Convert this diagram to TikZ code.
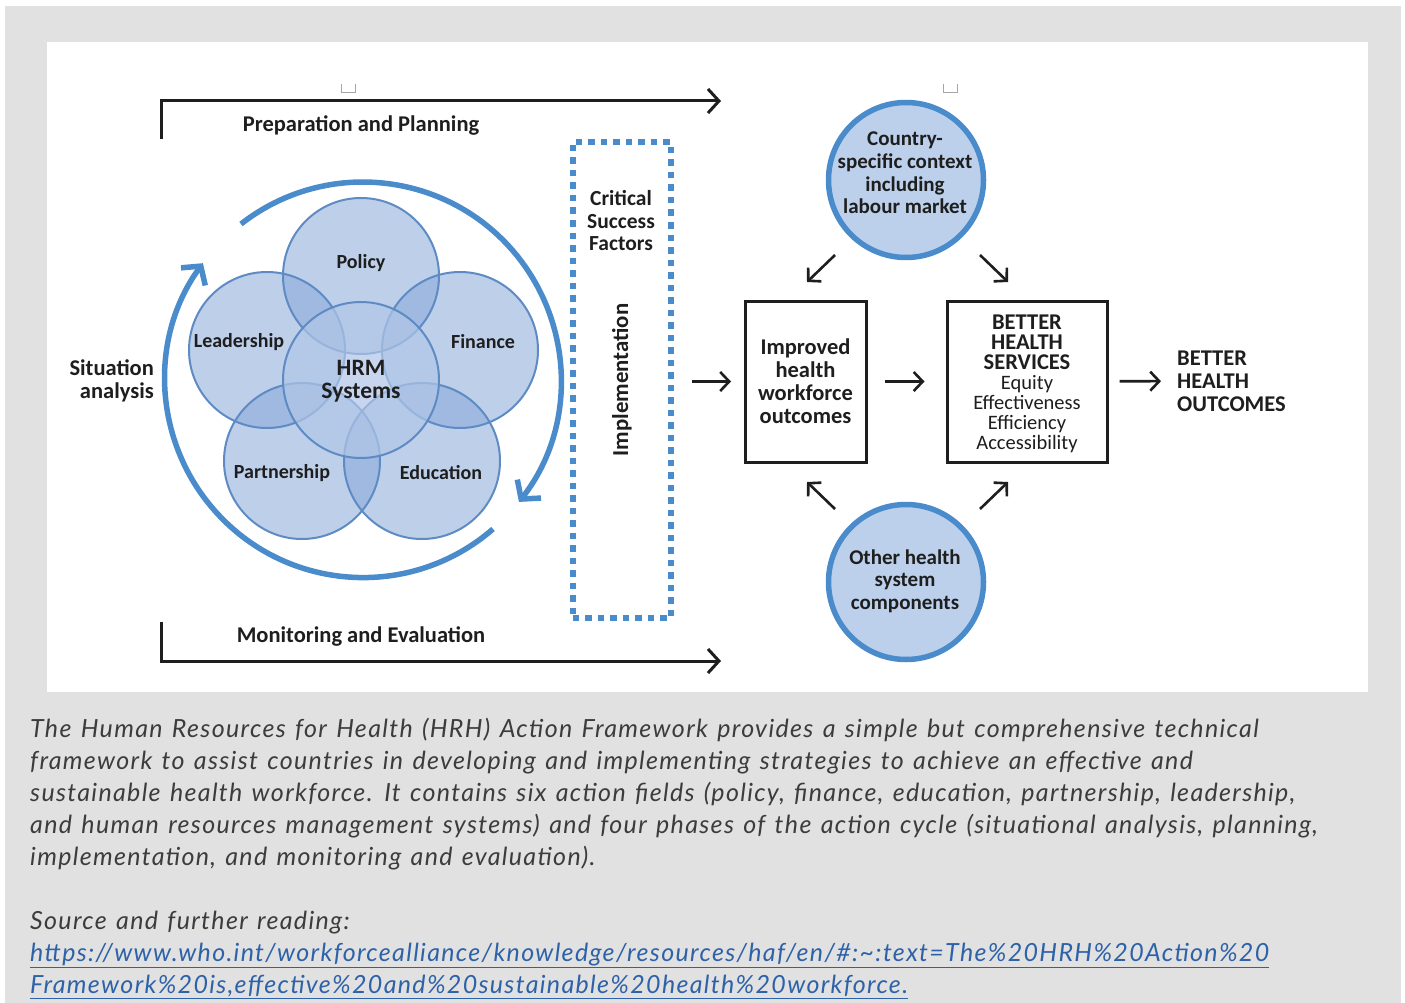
\documentclass[tikz,border=0pt]{standalone}
\usepackage{fontspec}
\setmainfont{Carlito}
\newfontfamily\capfont{Lato}[LetterSpace=5.3, WordSpace=1.3]
\usetikzlibrary{arrows.meta}
\definecolor{bgray}{HTML}{E1E1E1}
\definecolor{cblue}{RGB}{135,168,218}
\definecolor{hrmblue}{RGB}{176,198,231}
\definecolor{cline}{HTML}{5F8BC4}
\definecolor{arrblue}{HTML}{4A8BCB}
\definecolor{circfill}{HTML}{BCD0EC}
\definecolor{txt}{HTML}{1E1E1E}
\definecolor{captext}{HTML}{3C3C3C}
\definecolor{linkblue}{HTML}{2E62A8}
\begin{document}
\begin{tikzpicture}[x=1pt,y=-1pt,
  lbl/.style={font=\fontsize{22.5}{23}\selectfont\bfseries, text=txt, inner sep=0pt, align=center},
  vlbl/.style={font=\fontsize{20}{23}\selectfont\bfseries, text=txt, inner sep=0pt},
  blk/.style={draw=txt, line width=3pt},
  arr/.style={draw=txt, line width=2.6pt, -{Straight Barb[length=9pt,width=19pt]}},
  cyc/.style={draw=arrblue, line width=5.5pt, -{Straight Barb[length=13pt,width=30pt]}},
  bigcirc/.style={circle, draw=arrblue, line width=5.5pt, fill=circfill, minimum size=155pt, inner sep=0pt},
  circtxt/.style={align=center, font=\fontsize{21}{22.7}\selectfont\bfseries, text=txt, inner sep=0pt},
  box/.style={draw=txt, line width=3pt, inner sep=0pt},
  captxt/.style={anchor=base west, inner sep=0pt, font=\capfont\itshape\fontsize{25}{32}\selectfont, text=captext},
  handle/.style={draw=gray!70, line width=1pt}
]
\useasboundingbox (0,0) rectangle (1405,1003);
\fill[bgray] (5,6) rectangle (1401,1003);
\fill[white] (47,42) rectangle (1368,692);

% handles
\draw[handle] (341,84) -- (341,93) -- (355,93) -- (355,84);
\draw[handle] (943,84) -- (943,93) -- (957,93) -- (957,84);

% brackets
\coordinate (pp0) at (161,139);
\coordinate (pp1) at (161,101);
\coordinate (pp2) at (721,101);
\draw[blk, -{Straight Barb[length=11pt,width=24pt]}] (pp0) -- (pp1) -- (pp2);
\coordinate (me0) at (161,622);
\coordinate (me1) at (161,661);
\coordinate (me2) at (721,661);
\draw[blk, -{Straight Barb[length=11pt,width=24pt]}] (me0) -- (me1) -- (me2);
\node[lbl] (prep) at (361,125) {Preparation and Planning};
\node[lbl] (mon) at (361,636) {Monitoring and Evaluation};

% cycle arrows
\draw[cyc] (241,224) arc[start angle=-128, end angle=38, radius=198];
\draw[cyc] (493,529) arc[start angle=49, end angle=216, radius=198];

% Venn
\foreach \p in {(361,276),(267,350),(460,350),(302,461),(422,461)}{
  \fill[cblue, fill opacity=0.54] \p circle[radius=78];
}
\foreach \p in {(361,276),(267,350),(460,350),(302,461),(422,461)}{
  \draw[cline, line width=2pt] \p circle[radius=78];
}
\fill[hrmblue, fill opacity=0.7] (361,380) circle[radius=78];
\draw[cline, line width=2pt] (361,380) circle[radius=78];

\node[vlbl] (pol) at (361,263) {Policy};
\node[vlbl] (lead) at (239,342) {Leadership};
\node[vlbl] (fin) at (483,342) {Finance};
\node[vlbl] (part) at (282,473) {Partnership};
\node[vlbl] (edu) at (441,473) {Education};
\node[lbl, font=\fontsize{23.5}{23}\selectfont\bfseries] (hrm) at (361,381) {HRM\\Systems};
\node[lbl, align=right, anchor=east] (sit) at (154,381) {Situation\\analysis};

% critical success factors box
\node[draw=arrblue, line width=6pt, dash pattern=on 6.5pt off 6pt, minimum width=98pt, minimum height=476pt, inner sep=0pt] (csf) at (621.5,380) {};
\node[lbl, font=\fontsize{21.5}{22.5}\selectfont\bfseries] (csft) at (621,221) {Critical\\Success\\Factors};
\node[lbl, rotate=90, font=\fontsize{22.8}{23}\selectfont\bfseries] (impl) at (622,380) {Implementation};

% right part
\node[box, minimum width=121pt, minimum height=161pt] (box1) at (805.5,381.5) {};
\node[align=center, inner sep=0pt, text=txt, font=\fontsize{22.5}{23}\selectfont\bfseries] (box1t) at (box1) {Improved\\health\\workforce\\outcomes};
\node[box, minimum width=160pt, minimum height=161pt] (box2) at (1027,381.5) {};
\node[align=center, inner sep=0pt, text=txt, font=\fontsize{22.5}{20}\selectfont\bfseries] (box2t) at (1027,383.5) {BETTER\\HEALTH\\SERVICES\\{\mdseries\fontsize{20.5}{20}\selectfont Equity}\\{\mdseries\fontsize{20.5}{20}\selectfont Effectiveness}\\{\mdseries\fontsize{20.5}{20}\selectfont Efficiency}\\{\mdseries\fontsize{20.5}{20}\selectfont Accessibility}};
\node[lbl, align=left, anchor=west] (out) at (1177,381) {BETTER\\HEALTH\\OUTCOMES};

\node[bigcirc] (ctx) at (906,180) {};
\node[circtxt] (ctxt) at (905,173) {Country-\\specific context\\including\\labour market};
\node[bigcirc] (oth) at (906,582) {};
\node[circtxt] (otht) at (905,581) {Other health\\system\\components};

\draw[arr, shorten <=18.5pt, shorten >=12.5pt] (csf.east |- box1.west) -- (box1.west);
\draw[arr, shorten <=17pt, shorten >=21pt] (box1) -- (box2);
\draw[arr, shorten <=11pt, shorten >=16pt] (box2) -- (out);

\coordinate (d1s) at (835,255); \coordinate (d1e) at (807,282);
\coordinate (d2s) at (980,255); \coordinate (d2e) at (1008,282);
\coordinate (d3s) at (835,509); \coordinate (d3e) at (807,482);
\coordinate (d4s) at (980,509); \coordinate (d4e) at (1008,482);
\draw[arr] (d1s) -- (d1e);
\draw[arr] (d2s) -- (d2e);
\draw[arr] (d3s) -- (d3e);
\draw[arr] (d4s) -- (d4e);

% caption
\node[captxt] (c1) at (30,737) {The Human Resources for Health (HRH) Action Framework provides a simple but comprehensive technical};
\node[captxt] (c2) at (30,769) {framework to assist countries in developing and implementing strategies to achieve an effective and};
\node[captxt] (c3) at (30,801) {sustainable health workforce. It contains six action fields (policy, finance, education, partnership, leadership,};
\node[captxt] (c4) at (30,833) {and human resources management systems) and four phases of the action cycle (situational analysis, planning,};
\node[captxt] (c5) at (30,865) {implementation, and monitoring and evaluation).};
\node[captxt] (c6) at (30,929) {Source and further reading:};
\node[captxt, text=linkblue] (c7) at (30,961) {\underline{https://www.who.int/workforcealliance/knowledge/resources/haf/en/\#:\textasciitilde:text=The\%20HRH\%20Action\%20}};
\node[captxt, text=linkblue] (c8) at (30,993) {\underline{Framework\%20is,effective\%20and\%20sustainable\%20health\%20workforce.}};
\end{tikzpicture}
\end{document}
